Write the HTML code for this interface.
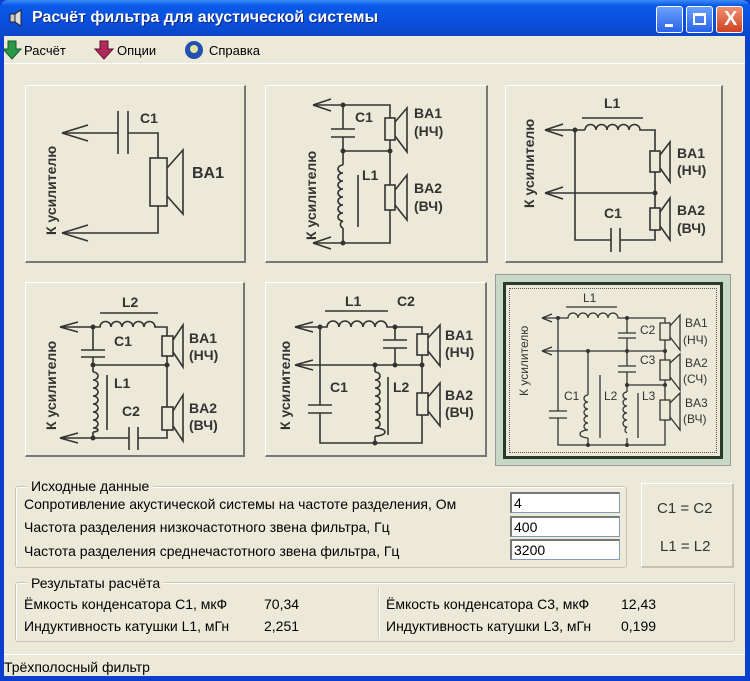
<!DOCTYPE html>
<html><head><meta charset="utf-8">
<style>
*{margin:0;padding:0;box-sizing:border-box}
body{width:750px;height:681px;overflow:hidden;background:#0a3fd0;font-family:"Liberation Sans",sans-serif;position:relative}
.abs{position:absolute}
#title{left:0;top:0;width:750px;height:36px;background:linear-gradient(#3d8cf5 0%,#0a5ae8 15%,#0a4fdc 60%,#0947c8 100%);border-radius:8px 8px 0 0}
#title span{position:absolute;left:32px;top:9px;color:#fff;font-weight:bold;font-size:16px;text-shadow:1px 1px #0a2a80}
.tb{position:absolute;top:6px;width:27px;height:27px;border:1px solid #fff;border-radius:3px;background:linear-gradient(#6aa0ff,#2a64e8)}
#client{left:4px;top:36px;width:741px;height:640px;background:#ece9d8}
.t{position:absolute;font-size:14px;color:#000;white-space:nowrap;transform-origin:0 0}
.pn{position:absolute;background:#ece9d8;border-top:1px solid #fff;border-left:1px solid #fff;border-right:2px solid #777;border-bottom:2px solid #777}
.gb{position:absolute;border:1px solid #c8c5b4;border-radius:3px;box-shadow:inset 1px 1px #fff}
.ed{position:absolute;background:#fff;border:1px solid #7f9db9;border-top:2px solid #777;border-left:2px solid #777;font-size:14px;padding-left:2px;line-height:18px}
</style></head><body>
<div id="title" class="abs"><svg class="abs" style="left:8px;top:9px" width="16" height="18"><rect x="2" y="5" width="5" height="8" fill="#ccc" stroke="#222"/><polygon points="7,5 13,1 13,17 7,13" fill="#ddd" stroke="#222"/></svg><span>Расчёт фильтра для акустической системы</span>
<div class="tb" style="left:656px"><div class="abs" style="left:8px;top:17px;width:8px;height:3px;background:#fff"></div></div>
<div class="tb" style="left:686px"><div class="abs" style="left:6px;top:6px;width:13px;height:12px;border:2px solid #fff;border-top-width:3px"></div></div>
<div class="tb" style="left:716px;background:linear-gradient(#f09070,#d04020)"><span style="left:7px;top:1px;font-size:20px;font-weight:bold;text-shadow:none">X</span></div>
</div>
<div id="client" class="abs"></div>
<!-- menu -->
<svg class="abs" style="left:4px;top:38px" width="260" height="24">
<polygon points="4,3 12,3 12,11 17,11 8,21 -1,11 4,11" fill="#2a9a4a" stroke="#145a2a"/>
<polygon points="96,3 104,3 104,11 109,11 100,21 91,11 96,11" fill="#b02a5a" stroke="#601030"/>
<circle cx="190" cy="12" r="9" fill="#2050b0"/><circle cx="190" cy="11" r="4" fill="#e8e0a0"/>
</svg>
<div class="t" style="left:24px;top:43px;font-size:13px">Расчёт</div>
<div class="t" style="left:117px;top:43px;font-size:13px">Опции</div>
<div class="t" style="left:209px;top:43px;font-size:13px">Справка</div>
<div class="abs" style="left:4px;top:63px;width:741px;height:1px;background:#fff"></div>
<!-- panels -->
<div class="pn" style="left:25px;top:85px;width:221px;height:178px"></div>
<div class="pn" style="left:265px;top:85px;width:223px;height:178px"></div>
<div class="pn" style="left:505px;top:85px;width:218px;height:178px"></div>
<div class="pn" style="left:25px;top:282px;width:220px;height:175px"></div>
<div class="pn" style="left:265px;top:282px;width:222px;height:175px"></div>
<div class="abs" style="left:495px;top:274px;width:236px;height:192px;background:#c8d8c8;border:1px solid #999"></div>
<div class="abs" style="left:503px;top:282px;width:220px;height:177px;background:#ece9d8;border:3px solid #2a3a2a"></div>
<div class="abs" style="left:509px;top:288px;width:208px;height:165px;border:1px dotted #555"></div>

<svg class="abs" style="left:0;top:0" width="750" height="681" fill="none" stroke="#333" stroke-width="1.6">
<g font-family="Liberation Sans" font-weight="bold" font-size="14" fill="#333" stroke="none">
<text transform="translate(56,235) rotate(-90)">К усилителю</text>
<text x="140" y="123">C1</text><text x="192" y="178" font-size="16">BA1</text>
<text transform="translate(316,240) rotate(-90)">К усилителю</text>
<text x="355" y="122">C1</text><text x="362" y="180">L1</text>
<text x="414" y="118">BA1</text><text x="414" y="136">(НЧ)</text>
<text x="414" y="193">BA2</text><text x="414" y="211">(ВЧ)</text>
<text transform="translate(534,208) rotate(-90)">К усилителю</text>
<text x="604" y="108">L1</text><text x="604" y="218">C1</text>
<text x="677" y="158">BA1</text><text x="677" y="175">(НЧ)</text>
<text x="677" y="215">BA2</text><text x="677" y="233">(ВЧ)</text>
<text transform="translate(56,430) rotate(-90)">К усилителю</text>
<text x="122" y="307">L2</text><text x="114" y="346">C1</text><text x="114" y="388">L1</text><text x="122" y="416">C2</text>
<text x="189" y="343">BA1</text><text x="189" y="360">(НЧ)</text>
<text x="189" y="413">BA2</text><text x="189" y="430">(ВЧ)</text>
<text transform="translate(290,430) rotate(-90)">К усилителю</text>
<text x="345" y="306">L1</text><text x="397" y="306">C2</text><text x="330" y="392">C1</text><text x="393" y="392">L2</text>
<text x="445" y="340">BA1</text><text x="445" y="357">(НЧ)</text>
<text x="445" y="400">BA2</text><text x="445" y="417">(ВЧ)</text>
<g font-weight="normal" font-size="12">
<text transform="translate(528,396) rotate(-90)">К усилителю</text>
<text x="583" y="302">L1</text><text x="640" y="334">C2</text><text x="640" y="364">C3</text>
<text x="564" y="400">C1</text><text x="604" y="400">L2</text><text x="642" y="400">L3</text>
<text x="685" y="327">BA1</text><text x="683" y="344">(НЧ)</text>
<text x="685" y="367">BA2</text><text x="683" y="383">(СЧ)</text>
<text x="685" y="407">BA3</text><text x="683" y="423">(ВЧ)</text></g>
</g>
<g fill="#333" stroke="none">
<circle cx="343" cy="105" r="2.5"/><circle cx="343" cy="151" r="2.5"/><circle cx="390" cy="151" r="2.5"/><circle cx="343" cy="243" r="2.5"/>
<circle cx="575" cy="130" r="2.5"/><circle cx="655" cy="193" r="2.5"/>
<circle cx="93" cy="327" r="2.5"/><circle cx="93" cy="365" r="2.5"/><circle cx="167" cy="365" r="2.5"/><circle cx="93" cy="438" r="2.5"/>
<circle cx="320" cy="327" r="2.5"/><circle cx="395" cy="327" r="2.5"/><circle cx="395" cy="365" r="2.5"/><circle cx="375" cy="365" r="2.5"/><circle cx="422" cy="365" r="2.5"/><circle cx="375" cy="443" r="2.5"/>
<circle cx="558" cy="318" r="2"/><circle cx="627" cy="318" r="2"/><circle cx="627" cy="351" r="2"/><circle cx="588" cy="351" r="2"/><circle cx="627" cy="385" r="2"/><circle cx="665" cy="351" r="2"/><circle cx="665" cy="385" r="2"/><circle cx="588" cy="445" r="2"/><circle cx="627" cy="445" r="2"/>
</g>
<!-- panel1 -->
<path d="M62,133 l26,-8 M62,133 l26,8 M62,233 l26,-8 M62,233 l26,8"/>
<path d="M62,133 H118 M128,133 H158 V158 M158,206 V233 H62"/>
<path d="M118,111 V154 M128,111 V154"/>
<rect x="150" y="158" width="17" height="48"/><path d="M167,168 L183,150 V214 L167,196"/>
<!-- panel2 -->
<path d="M313,105 l18,-6 M313,105 l18,6 M313,243 l18,-6 M313,243 l18,6"/>
<path d="M313,105 H390 V118 M390,140 V185 M390,210 V243 H313 M343,105 V129 M343,137 V165 M343,228 V243 M343,151 H390 M358,175 V227"/>
<path d="M331,129 H355 M331,137 H355"/>
<path d="M343,165 a5,4 0 0 0 0,8 a5,4 0 0 0 0,8 a5,4 0 0 0 0,8 a5,4 0 0 0 0,8 a5,4 0 0 0 0,8 a5,4 0 0 0 0,8 a5,4 0 0 0 0,8 a5,4 0 0 0 0,7"/>
<rect x="385" y="118" width="10" height="22"/><path d="M395,122 L407,108 V152 L395,136"/>
<rect x="385" y="185" width="10" height="25"/><path d="M395,190 L407,175 V220 L395,205"/>
<!-- panel3 -->
<path d="M545,130 l18,-6 M545,130 l18,6 M545,193 l18,-6 M545,193 l18,6"/>
<path d="M545,130 H585 M585,130 a5,5 0 0 1 11,0 a5,5 0 0 1 11,0 a5,5 0 0 1 11,0 a5,5 0 0 1 11,0 a5,5 0 0 1 11,0 H655 V151 M655,172 V208 M655,230 V240 H620 M611,240 H575 V130 M545,193 H655 M582,118 H643 M611,228 V252 M620,228 V252"/>
<rect x="650" y="151" width="10" height="21"/><path d="M660,155 L670,142 V182 L660,168"/>
<rect x="650" y="208" width="10" height="22"/><path d="M660,212 L670,198 V240 L660,226"/>
<!-- panel4 -->
<path d="M60,327 l18,-5 M60,327 l18,5 M60,438 l18,-5 M60,438 l18,5"/>
<path d="M60,327 H100 a5,5 0 0 1 11,0 a5,5 0 0 1 11,0 a5,5 0 0 1 11,0 a5,5 0 0 1 11,0 a5,5 0 0 1 11,0 H167 V336 M167,356 V365 H93 V357 M93,350 V327 M167,365 V407 M167,430 V438 H138 M129,438 H60 M100,313 H158 M81,350 H105 M81,357 H105 M129,427 V450 M138,427 V450 M107,375 V430 M93,365 V372 M93,432 V438"/>
<path d="M93,372 a5,4 0 0 1 0,8 a5,4 0 0 1 0,8 a5,4 0 0 1 0,8 a5,4 0 0 1 0,8 a5,4 0 0 1 0,8 a5,4 0 0 1 0,8 a5,4 0 0 1 0,8 a5,2 0 0 1 0,4"/>
<rect x="162" y="336" width="11" height="20"/><path d="M173,340 L183,325 V367 L173,352"/>
<rect x="162" y="407" width="11" height="23"/><path d="M173,411 L183,395 V441 L173,426"/>
<!-- panel5 -->
<path d="M295,327 l18,-5 M295,327 l18,5 M295,365 l18,-5 M295,365 l18,5"/>
<path d="M295,327 H327 a5,5 0 0 1 12,0 a5,5 0 0 1 12,0 a5,5 0 0 1 12,0 a5,5 0 0 1 12,0 a5,5 0 0 1 12,0 H422 V334 M422,355 V393 M422,415 V443 H320 V413 M320,405 V327 M295,365 H422 M395,327 V340 M395,348 V365 M383,340 H407 M383,348 H407 M308,405 H332 M308,413 H332 M325,311 H388 M388,377 V435 M375,365 V372 M375,436 V443"/>
<path d="M375,372 a5,4 0 0 1 0,8 a5,4 0 0 1 0,8 a5,4 0 0 1 0,8 a5,4 0 0 1 0,8 a5,4 0 0 1 0,8 a5,4 0 0 1 0,8 a5,4 0 0 1 0,8 a5,2 0 0 1 0,8"/>
<rect x="417" y="334" width="11" height="21"/><path d="M428,338 L440,325 V366 L428,351"/>
<rect x="417" y="393" width="11" height="22"/><path d="M428,397 L440,383 V426 L428,411"/>
<!-- panel6 -->
<g stroke-width="1.3">
<path d="M542,318 l10,-4 M542,318 l10,4 M542,351 l10,-4 M542,351 l10,4"/>
<path d="M542,318 H568 a4,4 0 0 1 10,0 a4,4 0 0 1 10,0 a4,4 0 0 1 10,0 a4,4 0 0 1 10,0 a4,4 0 0 1 10,0 H665 V323 M665,340 V360 M665,380 V400 M665,420 V445 H558 V418 M558,411 V318 M542,351 H665 M627,318 V333 M627,338 V366 M627,372 V392 M627,385 H665 M618,333 H636 M618,338 H636 M618,366 H636 M618,372 H636 M549,411 H567 M549,418 H567 M566,307 H617 M600,375 V438 M638,393 V438 M588,351 V395 M588,438 V445 M627,438 V445"/>
<path d="M588,395 a4,3.5 0 0 0 0,7 a4,3.5 0 0 0 0,7 a4,3.5 0 0 0 0,7 a4,3.5 0 0 0 0,7 a4,3.5 0 0 0 0,7 a4,2 0 0 0 0,8"/>
<path d="M627,392 a4,3.5 0 0 0 0,7 a4,3.5 0 0 0 0,7 a4,3.5 0 0 0 0,7 a4,3.5 0 0 0 0,7 a4,3.5 0 0 0 0,7 a4,3.5 0 0 0 0,6"/>
<rect x="660" y="323" width="10" height="17"/><path d="M670,326 L680,315 V350 L670,337"/>
<rect x="660" y="360" width="10" height="20"/><path d="M670,363 L680,354 V390 L670,377"/>
<rect x="660" y="400" width="10" height="20"/><path d="M670,403 L680,393 V430 L670,417"/>
</g>
</svg>

<!-- input group -->
<div class="gb" style="left:15px;top:486px;width:612px;height:82px"></div>
<div class="t" style="left:27px;top:478px;background:#ece9d8;padding:0 4px">Исходные данные</div>
<div class="t" style="left:24px;top:496px">Сопротивление акустической системы на частоте разделения, Ом</div>
<div class="t" style="left:24px;top:519px">Частота разделения низкочастотного звена фильтра, Гц</div>
<div class="t" style="left:24px;top:543px">Частота разделения среднечастотного звена фильтра, Гц</div>
<div class="ed" style="left:510px;top:492px;width:110px;height:21px">4</div>
<div class="ed" style="left:510px;top:516px;width:110px;height:21px">400</div>
<div class="ed" style="left:510px;top:539px;width:110px;height:21px">3200</div>
<div class="abs" style="left:641px;top:483px;width:93px;height:85px;border-top:1px solid #fff;border-left:1px solid #fff;border-right:2px solid #c5c2b2;border-bottom:2px solid #c5c2b2"></div>
<div class="t" style="left:657px;top:500px;font-size:15px;color:#333">C1 = C2</div>
<div class="t" style="left:660px;top:538px;font-size:15px;color:#333">L1 = L2</div>
<!-- results -->
<div class="gb" style="left:15px;top:582px;width:720px;height:60px"></div>
<div class="abs" style="left:378px;top:588px;width:2px;height:50px;background:#d0cdbd;border-right:1px solid #fff"></div>
<div class="t" style="left:27px;top:575px;background:#ece9d8;padding:0 4px">Результаты расчёта</div>
<div class="t" style="left:24px;top:596px">Ёмкость конденсатора C1, мкФ</div>
<div class="t" style="left:24px;top:618px">Индуктивность катушки L1, мГн</div>
<div class="t" style="left:264px;top:596px">70,34</div>
<div class="t" style="left:264px;top:618px">2,251</div>
<div class="t" style="left:386px;top:596px">Ёмкость конденсатора C3, мкФ</div>
<div class="t" style="left:386px;top:618px">Индуктивность катушки L3, мГн</div>
<div class="t" style="left:621px;top:596px">12,43</div>
<div class="t" style="left:621px;top:618px">0,199</div>
<div class="abs" style="left:4px;top:654px;width:741px;height:1px;background:#c5c2b2;border-bottom:1px solid #fff"></div>
<div class="t" style="left:4px;top:659px">Трёхполосный фильтр</div>
</body></html>
